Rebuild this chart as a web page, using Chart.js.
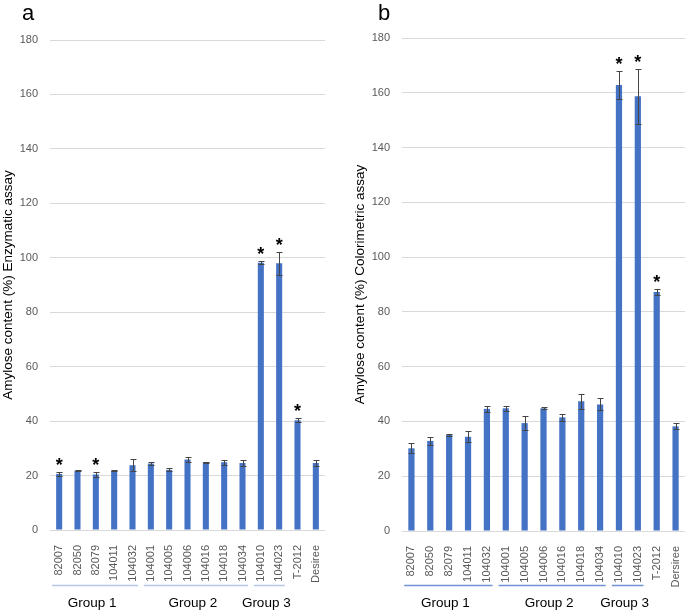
<!DOCTYPE html>
<html>
<head>
<meta charset="utf-8">
<script src="https://cdn.jsdelivr.net/npm/chart.js"></script>
<style>
body { margin: 0; background: #fff; width: 685px; height: 612px; position: relative; overflow: hidden; }
.panel { position: absolute; top: 0; }
</style>
</head>
<body>
<div class="panel" style="left:0"><canvas id="chartA" width="340" height="612"></canvas></div>
<div class="panel" style="left:340px"><canvas id="chartB" width="345" height="612"></canvas></div>
<script>
// lines (genotypes) on the x axis
const linesA = ['82007', '82050', '82079', '104011', '104032', '104001', '104005', '104006', '104016', '104018', '104034', '104010', '104023', 'T-2012', 'Desiree']
const linesB = ['82007', '82050', '82079', '104011', '104032', '104001', '104005', '104006', '104016', '104018', '104034', '104010', '104023', 'T-2012', 'Dersiree']

// panel a: enzymatic assay
const enzymatic = [20.6, 21.8, 20.4, 21.8, 23.8, 24.4, 22.1, 25.9, 24.9, 24.9, 24.6, 98.2, 98.0, 40.3, 24.6]
const enzymaticErr = [0.8, 0.3, 0.9, 0.2, 2.1, 0.4, 0.5, 1.1, 0.2, 0.9, 1.2, 0.6, 4.2, 0.8, 1.1]
const enzymaticStars = [0, 2, 11, 12, 13]

// panel b: colorimetric assay
const colorimetric = [30.2, 32.9, 35.1, 34.4, 44.6, 44.8, 39.4, 44.8, 41.5, 47.4, 46.2, 162.8, 158.7, 87.3, 38.2]
const colorimetricErr = [1.8, 1.6, 0.3, 2.0, 1.1, 1.0, 2.5, 0.3, 1.3, 2.7, 2.2, 5.0, 10.1, 1.0, 1.1]
const colorimetricStars = [11, 12, 13]

// groups: first and last index of each
const groupNames = ['Group 1', 'Group 2', 'Group 3']
const groupFirst = [0, 5, 11]
const groupLast = [4, 10, 12]

const yTicks = { min: 0, max: 180, step: 20 }

const FONT = '"Liberation Sans", Arial, sans-serif'

const extras = {
    id: 'extras',
    afterDatasetsDraw(chart, args, opts) {
        const ctx = chart.ctx
        const y = chart.scales.y
        const meta = chart.getDatasetMeta(0)
        const vals = chart.data.datasets[0].data
        ctx.save()
        ctx.strokeStyle = '#454545'
        ctx.lineWidth = 1
        meta.data.forEach((bar, i) => {
            const x = Math.round(bar.x) + 0.5
            const hi = Math.round(y.getPixelForValue(vals[i] + opts.err[i])) + 0.5
            const lo = Math.round(y.getPixelForValue(vals[i] - opts.err[i])) + 0.5
            ctx.beginPath()
            ctx.moveTo(x, hi); ctx.lineTo(x, lo)
            ctx.moveTo(x - 3, hi); ctx.lineTo(x + 3, hi)
            ctx.moveTo(x - 3, lo); ctx.lineTo(x + 3, lo)
            ctx.stroke()
            if (opts.stars.includes(i)) {
                ctx.fillStyle = '#000'
                ctx.font = 'bold 18px ' + FONT
                ctx.textAlign = 'center'
                ctx.textBaseline = 'alphabetic'
                ctx.fillText('*', bar.x, hi - 2)
            }
        })
        ctx.restore()
    },
    afterDraw(chart, args, opts) {
        const ctx = chart.ctx
        const xs = chart.scales.x
        ctx.save()
        groupNames.forEach((name, g) => {
            const a = xs.getPixelForValue(groupFirst[g] - 0.38)
            const b = xs.getPixelForValue(groupLast[g] + 0.3)
            ctx.strokeStyle = opts.lineColor
            ctx.lineWidth = 1.5
            ctx.beginPath()
            ctx.moveTo(a, opts.lineY); ctx.lineTo(b, opts.lineY)
            ctx.stroke()
            ctx.fillStyle = '#000'
            ctx.font = '13.5px ' + FONT
            ctx.textAlign = 'center'
            ctx.textBaseline = 'middle'
            ctx.fillText(name, (a + b) / 2 - 3, 603)
        })
        ctx.font = '22px ' + FONT
        ctx.textAlign = 'left'
        ctx.textBaseline = 'alphabetic'
        ctx.fillText(opts.tag, opts.tagX, 20)
        ctx.restore()
    }
}

function makeChart(id, labels, values, err, stars, cfg) {
    return new Chart(document.getElementById(id), {
        type: 'bar',
        data: {
            labels: labels,
            datasets: [{
                data: values,
                backgroundColor: '#4472c4',
                barPercentage: 0.33,
                categoryPercentage: 1
            }]
        },
        options: {
            responsive: false,
            animation: false,
            devicePixelRatio: 1,
            layout: { padding: cfg.padding },
            plugins: {
                legend: { display: false },
                tooltip: { enabled: false },
                extras: { err: err, stars: stars, lineColor: cfg.lineColor, lineY: 585.5, tag: cfg.tag, tagX: cfg.tagX }
            },
            scales: {
                x: {
                    grid: { display: false },
                    border: { display: false },
                    ticks: { color: '#595959', font: { size: 11, family: FONT }, minRotation: 90, maxRotation: 90, padding: 7, autoSkip: false },
                    afterFit(s) {
                        s.height = cfg.xHeight
                        s.paddingLeft = 0
                        s.paddingRight = 0
                    }
                },
                y: {
                    min: yTicks.min,
                    max: yTicks.max,
                    grid: { color: '#d9d9d9', drawTicks: false },
                    border: { display: false },
                    ticks: { stepSize: yTicks.step, color: '#595959', font: { size: 11, family: FONT }, padding: 12 },
                    title: { display: true, text: cfg.title, color: '#000', font: { size: 13.5, family: FONT }, padding: { top: cfg.titlePad, bottom: 0 } },
                    afterFit(s) { s.width = cfg.yWidth }
                }
            }
        },
        plugins: [extras]
    })
}

makeChart('chartA', linesA, enzymatic, enzymaticErr, enzymaticStars, {
    padding: { top: 40, right: 15, left: 0, bottom: 0 },
    xHeight: 82, yWidth: 50, titlePad: 0,
    title: 'Amylose content (%) Enzymatic assay',
    lineColor: '#b4c7e7', tag: 'a', tagX: 22
})
makeChart('chartB', linesB, colorimetric, colorimetricErr, colorimetricStars, {
    padding: { top: 38, right: 0, left: 0, bottom: 0 },
    xHeight: 81, yWidth: 62, titlePad: 12,
    title: 'Amylose content (%) Colorimetric assay',
    lineColor: '#6f93d6', tag: 'b', tagX: 38
})
</script>
</body>
</html>
